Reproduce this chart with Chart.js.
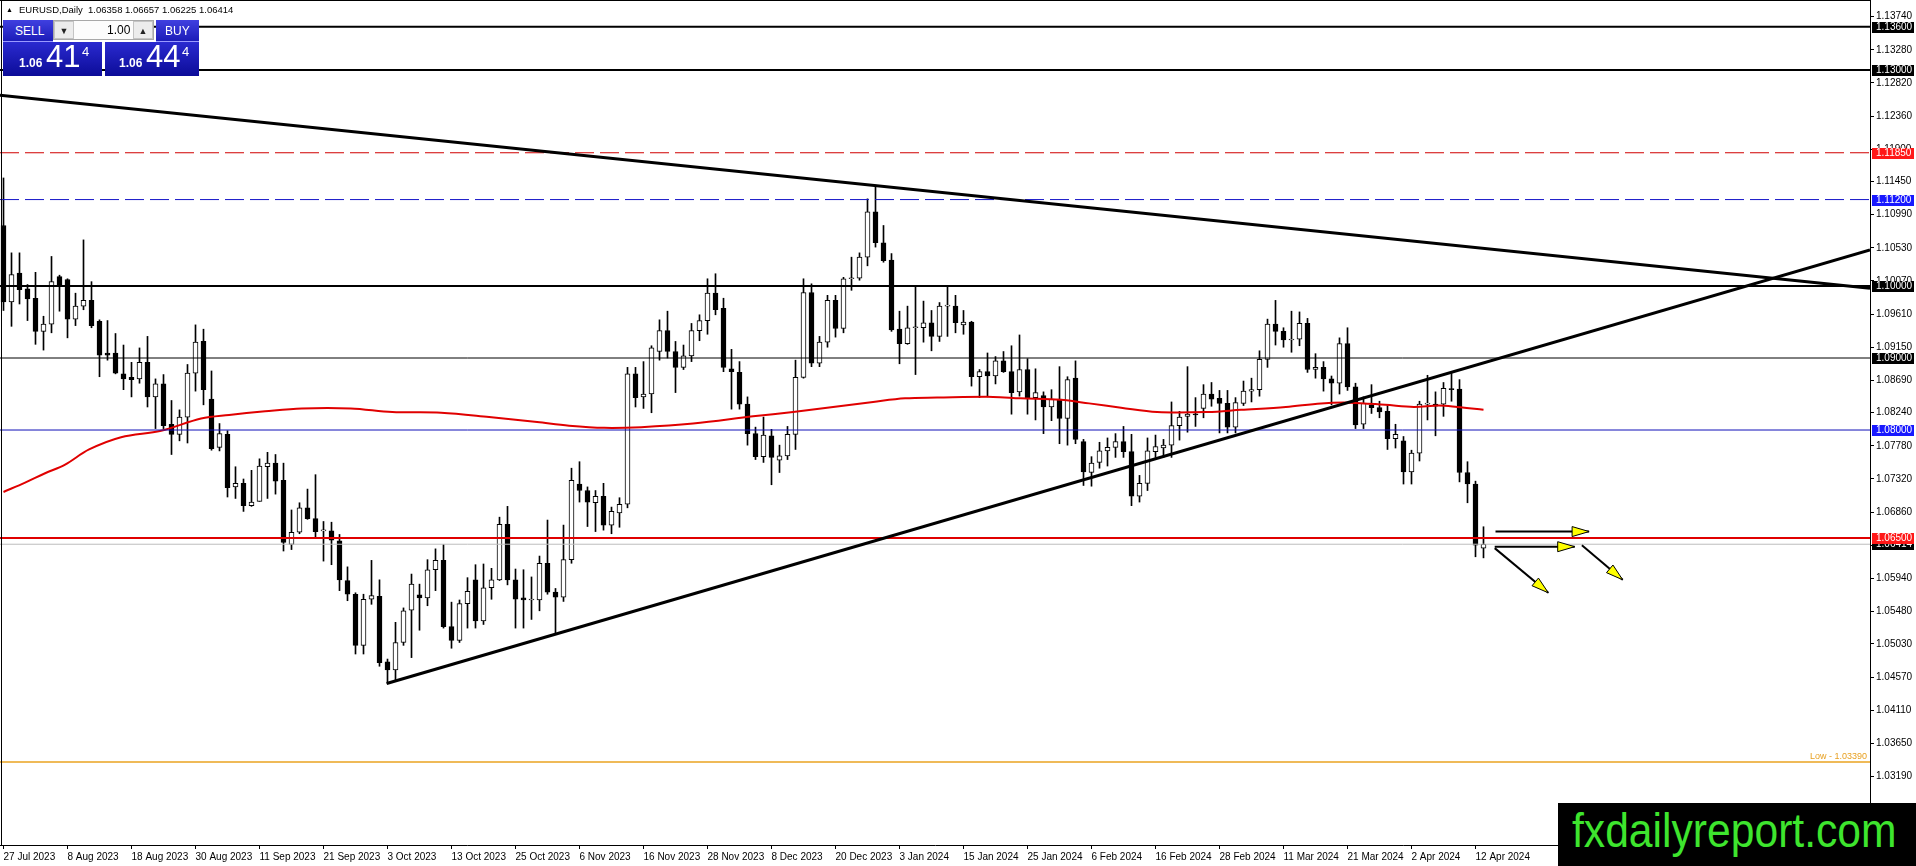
<!DOCTYPE html>
<html><head><meta charset="utf-8">
<script src="https://cdn.jsdelivr.net/npm/chart.js@4.4.0/dist/chart.umd.min.js"></script>
<style>
html,body{margin:0;padding:0;background:#fff;overflow:hidden;}
#wrap{position:relative;width:1916px;height:866px;overflow:hidden;}
#c{position:absolute;left:0;top:0;}
.abs{position:absolute;white-space:pre;font-family:'Liberation Sans',Arial,sans-serif;}
#hdr{left:6px;top:5px;font-size:9.5px;line-height:10px;color:#000;}
#hdr .tri{font-size:7px;margin-right:6px;vertical-align:1px;}
.btn{background:linear-gradient(#4040e0,#1c1cb8);color:#fff;font-size:12px;line-height:22px;height:22px;border-bottom:1px solid #9a9aff;box-sizing:border-box;}
.lot{background:#fcfcfc;border:1px solid #a8a8a8;box-sizing:border-box;height:20px;}
.lot span{position:absolute;font-size:12px;line-height:18px;top:0;color:#000;}
.lot .ar{background:#ececec;border:1px solid #c4c4c4;box-sizing:border-box;width:20px;height:18px;text-align:center;font-size:9px;color:#222;}
.px{background:linear-gradient(#2a2ad0,#0c0c98);color:#fff;height:34px;}
.px span{position:absolute;color:#fff;}
#logo{left:1558px;top:803px;width:358px;height:63px;background:#000;}
#logo span{position:absolute;left:14px;top:3px;font-size:49px;line-height:49px;color:#3ee52e;transform:scaleX(0.87);transform-origin:0 0;}
</style></head><body>
<div id="wrap">
<canvas id="c" width="1916" height="866"></canvas>
<div id="hdr" class="abs"><span class="tri">▲</span>EURUSD,Daily  1.06358 1.06657 1.06225 1.06414</div>
<div class="abs btn" style="left:3px;top:20px;width:50px;"><span style="position:absolute;left:12px;">SELL</span></div>
<div class="abs lot" style="left:53px;top:20px;width:101px;">
  <span class="ar" style="left:0;">▼</span>
  <span style="left:53px;">1.00</span>
  <span class="ar" style="left:79px;">▲</span>
</div>
<div class="abs btn" style="left:156px;top:20px;width:43px;"><span style="position:absolute;left:9px;">BUY</span></div>
<div class="abs px" style="left:3px;top:42px;width:99px;">
  <span style="left:16px;top:15px;font-size:12px;line-height:12px;font-weight:bold;">1.06</span>
  <span style="left:43px;top:-1px;font-size:31px;line-height:31px;">41</span>
  <span style="left:79px;top:3px;font-size:13px;line-height:13px;">4</span>
</div>
<div class="abs px" style="left:105px;top:42px;width:94px;">
  <span style="left:14px;top:15px;font-size:12px;line-height:12px;font-weight:bold;">1.06</span>
  <span style="left:41px;top:-1px;font-size:31px;line-height:31px;">44</span>
  <span style="left:77px;top:3px;font-size:13px;line-height:13px;">4</span>
</div>
<div id="logo" class="abs"><span>fxdailyreport.com</span></div>
</div>
<script>
// ---------------- DATA ----------------
const dateLabels = ['27 Jul 2023','8 Aug 2023','18 Aug 2023','30 Aug 2023','11 Sep 2023','21 Sep 2023','3 Oct 2023','13 Oct 2023','25 Oct 2023','6 Nov 2023','16 Nov 2023','28 Nov 2023','8 Dec 2023','20 Dec 2023','3 Jan 2024','15 Jan 2024','25 Jan 2024','6 Feb 2024','16 Feb 2024','28 Feb 2024','11 Mar 2024','21 Mar 2024','2 Apr 2024','12 Apr 2024'];
const LABEL_STEP = 8;

const opens = [
1.1084,1.0978,1.1018,1.0996,1.0983,1.0937,1.0947,1.1013,1.1009,1.0954,
1.0972,1.0980,1.0951,1.0907,1.0907,1.0878,1.0873,1.0871,1.0894,1.0846,
1.0864,1.0808,1.0794,1.0818,1.0879,1.0923,1.0843,1.0776,1.0794,1.0721,
1.0726,1.0695,1.0701,1.0749,1.0754,1.0730,1.0641,1.0658,1.0692,1.0677,
1.0660,1.0660,1.0646,1.0591,1.0572,1.0501,1.0565,1.0569,1.0478,1.0467,
1.0505,1.0550,1.0571,1.0567,1.0606,1.0619,1.0527,1.0508,1.0559,1.0592,
1.0535,1.0581,1.0592,1.0669,1.0592,1.0567,1.0564,1.0564,1.0615,1.0575,
1.0568,1.0620,1.0725,1.0716,1.0699,1.0708,1.0668,1.0685,1.0697,1.0878,
1.0846,1.0850,1.0909,1.0938,1.0909,1.0887,1.0903,1.0938,1.0952,1.0990,
1.0969,1.0885,1.0880,1.0836,1.0795,1.0763,1.0792,1.0758,1.0764,1.0794,
1.0873,1.0991,1.0893,1.0922,1.0980,1.0941,1.1010,1.1011,1.1040,1.1103,
1.1060,1.1036,1.0940,1.0920,1.0942,1.0942,1.0949,1.0930,1.0972,1.0972,
1.0946,1.0950,1.0874,1.0881,1.0875,1.0896,1.0881,1.0853,1.0884,1.0845,
1.0848,1.0832,1.0843,1.0816,1.0872,1.0784,1.0741,1.0755,1.0771,1.0776,
1.0784,1.0770,1.0708,1.0726,1.0770,1.0775,1.0779,1.0806,1.0819,1.0822,
1.0830,1.0850,1.0844,1.0837,1.0804,1.0837,1.0854,1.0856,1.0898,1.0947,
1.0937,1.0925,1.0926,1.0948,1.0884,1.0887,1.0871,1.0865,1.0920,1.0860,
1.0808,1.0835,1.0831,1.0826,1.0788,1.0785,1.0742,1.0768,1.0836,1.0836,
1.0836,1.0857,1.0857,1.0741,1.0725,1.06358];
const highs = [
1.1150,1.1046,1.1046,1.1002,1.1019,1.0958,1.1041,1.1015,1.1010,1.0990,
1.1064,1.1006,1.0953,1.0952,1.0934,1.0918,1.0894,1.0914,1.0930,1.0871,
1.0877,1.0841,1.0828,1.0891,1.0946,1.0940,1.0882,1.0809,1.0799,1.0749,
1.0732,1.0744,1.0760,1.0769,1.0766,1.0754,1.0689,1.0699,1.0718,1.0738,
1.0673,1.0672,1.0655,1.0610,1.0574,1.0572,1.0619,1.0592,1.0482,1.0533,
1.0553,1.0600,1.0586,1.0620,1.0635,1.0641,1.0561,1.0564,1.0595,1.0613,
1.0614,1.0608,1.0679,1.0694,1.0607,1.0606,1.0596,1.0625,1.0675,1.0580,
1.0668,1.0747,1.0756,1.0721,1.0716,1.0726,1.0693,1.0706,1.0887,1.0887,
1.0895,1.0917,1.0953,1.0965,1.0923,1.0918,1.0948,1.0960,1.1010,1.1017,
1.0983,1.0912,1.0895,1.0846,1.0804,1.0818,1.0801,1.0779,1.0805,1.0897,
1.1010,1.1003,1.0930,1.0987,1.0987,1.1012,1.1040,1.1046,1.1121,1.1140,
1.1084,1.1045,1.0965,1.0972,1.0999,1.0979,1.0966,1.0977,1.0999,1.0987,
1.0966,1.0951,1.0884,1.0907,1.0902,1.0909,1.0917,1.0932,1.0899,1.0885,
1.0853,1.0856,1.0888,1.0874,1.0896,1.0787,1.0763,1.0783,1.0789,1.0795,
1.0805,1.0794,1.0737,1.0789,1.0793,1.0787,1.0839,1.0826,1.0888,1.0845,
1.0863,1.0866,1.0855,1.0855,1.0845,1.0868,1.0872,1.0910,1.0954,1.0980,
1.0942,1.0965,1.0964,1.0955,1.0906,1.0895,1.0875,1.0928,1.0942,1.0865,
1.0846,1.0863,1.0840,1.0834,1.0808,1.0791,1.0772,1.0840,1.0876,1.0853,
1.0866,1.0881,1.0870,1.0756,1.0729,1.06657];
const lows = [
1.0966,1.0944,1.0975,1.0952,1.0919,1.0911,1.0935,1.0965,1.0928,1.0945,
1.0967,1.0942,1.0874,1.0897,1.0878,1.0856,1.0846,1.0865,1.0832,1.0802,
1.0802,1.0766,1.0785,1.0782,1.0854,1.0835,1.0772,1.0771,1.0707,1.0705,
1.0687,1.0694,1.0701,1.0705,1.0711,1.0632,1.0634,1.0656,1.0676,1.0651,
1.0618,1.0613,1.0577,1.0563,1.0489,1.0489,1.0558,1.0472,1.0448,1.0453,
1.0501,1.0484,1.0522,1.0556,1.0577,1.0525,1.0497,1.0505,1.0525,1.0525,
1.0530,1.0565,1.0591,1.0585,1.0525,1.0525,1.0537,1.0549,1.0572,1.0516,
1.0562,1.0615,1.0700,1.0666,1.0659,1.0661,1.0656,1.0665,1.0692,1.0832,
1.0830,1.0824,1.0897,1.0900,1.0852,1.0884,1.0895,1.0924,1.0933,1.0960,
1.0881,1.0829,1.0829,1.0779,1.0759,1.0755,1.0724,1.0741,1.0759,1.0773,
1.0872,1.0888,1.0888,1.0915,1.0929,1.0935,1.0994,1.1008,1.1028,1.1054,
1.1033,1.0937,1.0892,1.0919,1.0877,1.0922,1.0910,1.0923,1.0930,1.0935,
1.0933,1.0861,1.0845,1.0846,1.0864,1.0880,1.0822,1.0847,1.0822,1.0814,
1.0795,1.0813,1.0781,1.0779,1.0781,1.0723,1.0722,1.0747,1.0750,1.0762,
1.0762,1.0695,1.0700,1.0716,1.0762,1.0762,1.0762,1.0786,1.0797,1.0805,
1.0817,1.0833,1.0796,1.0796,1.0796,1.0834,1.0839,1.0847,1.0887,1.0918,
1.0915,1.0908,1.0917,1.0880,1.0872,1.0854,1.0835,1.0850,1.0855,1.0802,
1.0802,1.0823,1.0817,1.0773,1.0775,1.0725,1.0725,1.0757,1.0814,1.0792,
1.0819,1.0840,1.0728,1.0699,1.0624,1.06225];
const closes = [
1.0978,1.1016,1.0995,1.0982,1.0937,1.0947,1.1006,1.1001,1.0954,1.0972,
1.0980,1.0945,1.0904,1.0904,1.0879,1.0871,1.0870,1.0894,1.0846,1.0864,
1.0806,1.0794,1.0818,1.0879,1.0922,1.0856,1.0774,1.0795,1.0720,1.0726,
1.0695,1.0700,1.0750,1.0754,1.0729,1.0644,1.0658,1.0692,1.0677,1.0659,
1.0660,1.0647,1.0592,1.0572,1.0501,1.0565,1.0570,1.0477,1.0467,1.0505,
1.0549,1.0586,1.0567,1.0606,1.0619,1.0527,1.0508,1.0559,1.0576,1.0535,
1.0581,1.0592,1.0669,1.0592,1.0565,1.0564,1.0564,1.0615,1.0575,1.0568,
1.0620,1.0730,1.0716,1.0700,1.0708,1.0668,1.0687,1.0697,1.0878,1.0845,
1.0850,1.0914,1.0938,1.0909,1.0887,1.0903,1.0938,1.0952,1.0990,1.0967,
1.0887,1.0881,1.0836,1.0795,1.0763,1.0793,1.0762,1.0764,1.0794,1.0873,
1.0991,1.0893,1.0922,1.0980,1.0941,1.1010,1.1011,1.1040,1.1103,1.1060,
1.1035,1.0939,1.0920,1.0942,1.0943,1.0949,1.0930,1.0972,1.0973,1.0949,
1.0950,1.0874,1.0881,1.0875,1.0896,1.0881,1.0852,1.0884,1.0844,1.0852,
1.0832,1.0843,1.0816,1.0870,1.0787,1.0742,1.0754,1.0771,1.0776,1.0784,
1.0770,1.0708,1.0726,1.0771,1.0777,1.0779,1.0806,1.0818,1.0822,1.0821,
1.0850,1.0843,1.0837,1.0804,1.0838,1.0854,1.0856,1.0898,1.0947,1.0937,
1.0925,1.0926,1.0948,1.0884,1.0887,1.0871,1.0865,1.0920,1.0860,1.0807,
1.0837,1.0831,1.0825,1.0788,1.0794,1.0742,1.0768,1.0836,1.0836,1.0833,
1.0858,1.0856,1.0741,1.0725,1.0640,1.06414];

// moving average (red): bar position and value
const maBar = [0,2.7,5.2,7.7,10.7,14.7,19.7,24.7,28.2,32.7,37.3,43.4,48.6,54.7,60.7,66.7,70.7,75.1,79.7,86.2,93.7,98.7,103.7,108.7,112.7,116.7,123.7,127.1,132.1,135.7,139.7,144.2,150.5,154.7,160.3,164.7,168.3,172.7,176.3,179.4,181.7,185];
const maValue = [1.0714,1.0727,1.0740,1.0752,1.0773,1.0790,1.0799,1.0816,1.0821,1.0826,1.0830,1.0830,1.0825,1.0824,1.0818,1.0811,1.0806,1.0803,1.0804,1.0809,1.0819,1.0825,1.0832,1.0839,1.0844,1.0845,1.0846,1.0844,1.0842,1.0837,1.0831,1.0825,1.0825,1.0828,1.0832,1.0837,1.0838,1.0835,1.0832,1.0834,1.0832,1.0828];

// horizontal levels
const levelValues = [1.13600,1.13000,1.11850,1.11200,1.10000,1.09000,1.08000,1.06414,1.06500,1.03390];
const levelTagText = ['1.13600','1.13000','1.11850','1.11200','1.10000','1.09000','1.08000','1.06414','1.06500',''];
const lowText = 'Low - 1.03390';

// trend lines (bar position, price)
const trendDownBar = [-0.4375, 233.3125];
const trendDownPrice = [1.1265, 1.0997];
const trendUpBar = [47.9, 233.3125];
const trendUpPrice = [1.0448, 1.1050];

// arrows (bar position, price)
const arrowFromBar = [186.5, 186.4, 186.4, 197.3];
const arrowFromPrice = [1.0659, 1.0638, 1.0636, 1.0640];
const arrowToBar = [198.2, 196.4, 193.1, 202.4];
const arrowToPrice = [1.0659, 1.0638, 1.0574, 1.0592];

// axis
const yTickValues = [1.13740,1.13280,1.12820,1.12360,1.11900,1.11450,1.10990,1.10530,1.10070,1.09610,1.09150,1.08690,1.08240,1.07780,1.07320,1.06860,1.06400,1.05940,1.05480,1.05030,1.04570,1.04110,1.03650,1.03190];
const X_MIN = -0.4375, X_MAX = 233.3125;
const Y_MIN = 1.02238, Y_MAX = 1.13971;

// ---------------- STYLES ----------------
const levelColor = ['#000000','#000000','#d00000','#1414c8','#000000','#000000','#1010b8','#bdbdbd','#e00000','#eaa320'];
const levelWidth = [2,2,1,1,2,1,1,1,2,1.5];
const levelDash  = [[],[],[19,6],[19,6],[],[],[],[],[],[]];
const tagBg      = ['#000000','#000000','#ff1818','#1818ff','#000000','#000000','#1818ff','#000000','#ff1818',null];
const FONT = "'Liberation Sans', Arial, sans-serif";

// ---------------- CHART ----------------
const idx = opens.map((_, i) => i);
const datasets = [];

datasets.push({
  type:'bar', label:'wick', order:21, grouped:false,
  data: idx.map(i => ({x:i, y:[lows[i], highs[i]]})),
  backgroundColor:'#000', borderWidth:0, barThickness:1, minBarLength:1
});
datasets.push({
  type:'bar', label:'body', order:20, grouped:false,
  data: idx.map(i => ({x:i, y:[opens[i], closes[i]]})),
  backgroundColor: idx.map(i => closes[i] >= opens[i] ? '#ffffff' : '#000000'),
  borderColor:'#000', borderWidth:1, borderSkipped:false, barThickness:5, minBarLength:1
});
datasets.push({
  type:'line', label:'ma', order:10,
  data: maBar.map((b,k) => ({x:b, y:maValue[k]})),
  borderColor:'#e00000', borderWidth:2, pointRadius:0, tension:0.35, fill:false
});
levelValues.forEach((v,k) => {
  datasets.push({
    type:'line', label:'lvl'+k, order:8,
    data:[{x:X_MIN,y:v},{x:X_MAX,y:v}],
    borderColor:levelColor[k], borderWidth:levelWidth[k], borderDash:levelDash[k], pointRadius:0, fill:false
  });
});
datasets.push({
  type:'line', label:'trendDown', order:6,
  data: trendDownBar.map((b,k)=>({x:b,y:trendDownPrice[k]})),
  borderColor:'#000', borderWidth:3, pointRadius:0, fill:false
});
datasets.push({
  type:'line', label:'trendUp', order:6,
  data: trendUpBar.map((b,k)=>({x:b,y:trendUpPrice[k]})),
  borderColor:'#000', borderWidth:3, pointRadius:0, fill:false
});
arrowFromBar.forEach((b,k) => {
  datasets.push({
    type:'line', label:'arrow'+k, order:4,
    data:[{x:b,y:arrowFromPrice[k]},{x:arrowToBar[k],y:arrowToPrice[k]}],
    borderColor:'#000', borderWidth:2, pointRadius:0, fill:false
  });
});

const overlay = {
  id:'overlay',
  afterDatasetsDraw(chart){
    const {ctx, scales:{x,y}} = chart;
    ctx.save();
    for (let k=0;k<arrowToBar.length;k++){
      const x1=x.getPixelForValue(arrowFromBar[k]), y1=y.getPixelForValue(arrowFromPrice[k]);
      const x2=x.getPixelForValue(arrowToBar[k]), y2=y.getPixelForValue(arrowToPrice[k]);
      const a=Math.atan2(y2-y1,x2-x1), L=17, W=5;
      const bx=x2-L*Math.cos(a), by=y2-L*Math.sin(a);
      ctx.beginPath();
      ctx.moveTo(x2,y2);
      ctx.lineTo(bx+W*Math.sin(a), by-W*Math.cos(a));
      ctx.lineTo(bx-W*Math.sin(a), by+W*Math.cos(a));
      ctx.closePath();
      ctx.fillStyle='#ffff00'; ctx.fill();
      ctx.lineWidth=1; ctx.strokeStyle='#000'; ctx.stroke();
    }
    const ly = y.getPixelForValue(levelValues[9]);
    ctx.font = '9px '+FONT;
    ctx.fillStyle = '#e8a020';
    ctx.textAlign='right'; ctx.textBaseline='alphabetic';
    ctx.fillText(lowText, chart.chartArea.right-3, ly-3);
    ctx.restore();
  },
  afterDraw(chart){
    const {ctx, scales:{y}, chartArea} = chart;
    ctx.save();
    ctx.fillStyle='#000';
    ctx.fillRect(0,0,chartArea.right,1);
    ctx.fillRect(1,0,1,chartArea.bottom);
    ctx.fillRect(Math.round(chartArea.right),chartArea.bottom,1,866-chartArea.bottom);
    ctx.font = '10px '+FONT;
    ctx.textAlign='left'; ctx.textBaseline='middle';
    levelValues.forEach((v,k)=>{
      if (!tagBg[k]) return;
      const py = Math.round(y.getPixelForValue(v));
      ctx.fillStyle = tagBg[k];
      ctx.fillRect(chartArea.right+2, py-5, 42, 11);
      ctx.fillStyle = '#fff';
      ctx.fillText(levelTagText[k], chartArea.right+6, py+0.5);
    });
    ctx.restore();
  }
};

new Chart(document.getElementById('c'), {
  type:'bar',
  data:{datasets},
  options:{
    responsive:false, animation:false, devicePixelRatio:1, events:[],
    layout:{padding:0},
    plugins:{legend:{display:false}, tooltip:{enabled:false}},
    scales:{
      x:{
        type:'linear', min:X_MIN, max:X_MAX, offset:false, bounds:'data',
        grid:{display:true, drawOnChartArea:false, drawTicks:true, tickLength:4, color:'#000', offset:false},
        border:{display:true, color:'#000', width:1},
        afterBuildTicks: s => { s.ticks = dateLabels.map((_,k)=>({value:k*LABEL_STEP})); },
        afterFit: s => { s.height = 21; s.paddingLeft = 0; s.paddingRight = 0; s.paddingTop = 0; s.paddingBottom = 0; },
        ticks:{
          autoSkip:false, maxRotation:0, minRotation:0, align:'start', padding:2,
          color:'#000', font:{family:FONT, size:10},
          callback: (v) => dateLabels[Math.round(v/LABEL_STEP)]
        }
      },
      y:{
        type:'linear', position:'right', min:Y_MIN, max:Y_MAX, beginAtZero:false, bounds:'data',
        grid:{display:true, drawOnChartArea:false, drawTicks:true, tickLength:4, color:'#000'},
        border:{display:true, color:'#000', width:1},
        afterBuildTicks: s => { s.ticks = yTickValues.map(v=>({value:v})); },
        afterFit: s => { s.width = 46; s.paddingTop = 0; s.paddingBottom = 0; s.paddingLeft = 0; s.paddingRight = 0; },
        ticks:{
          autoSkip:false, padding:2, color:'#000', font:{family:FONT, size:10},
          callback: v => Number(v).toFixed(5)
        }
      }
    }
  },
  plugins:[overlay]
});
</script>
</body></html>
